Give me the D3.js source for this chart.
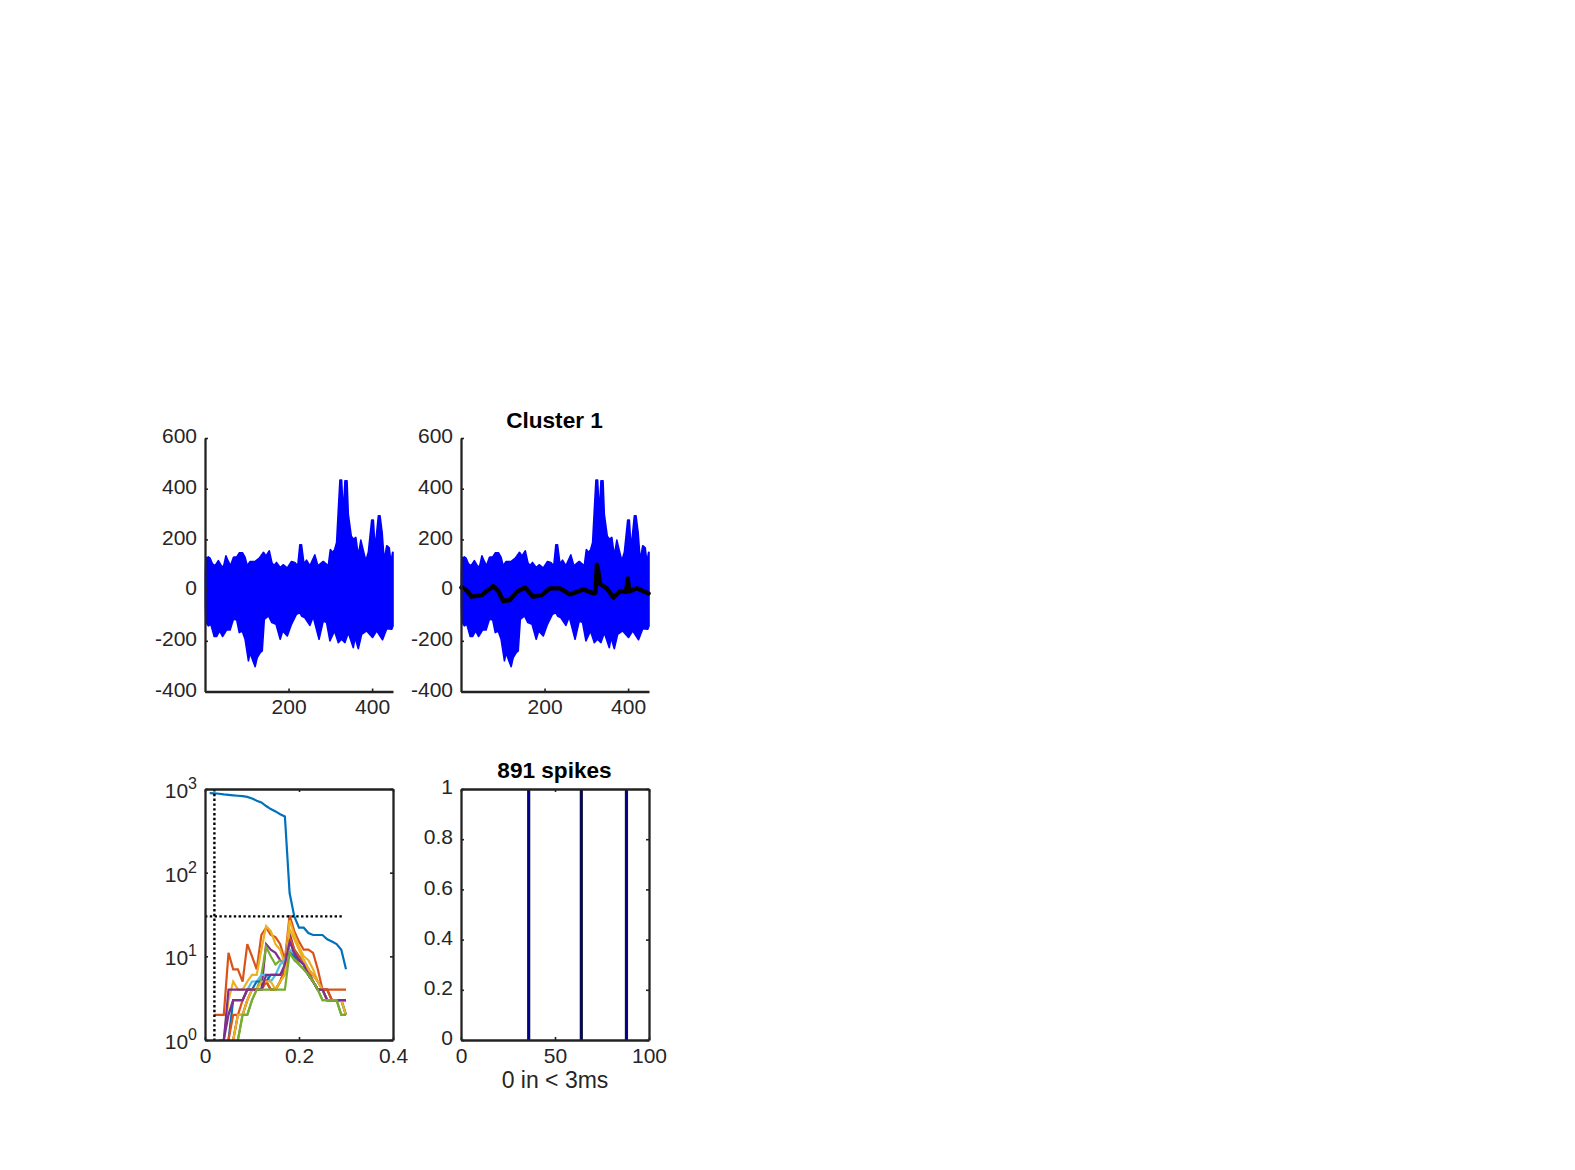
<!DOCTYPE html>
<html><head><meta charset="utf-8">
<script src="https://cdn.jsdelivr.net/npm/d3@7"></script>
<style>
html,body{margin:0;padding:0;background:#fff;}
svg{display:block;}
text{font-family:"Liberation Sans",Arial,sans-serif;fill:#262626;}
.axis path,.axis line{stroke:#222;stroke-width:2.3;fill:none;}
.axis line{stroke-width:1.6;}
.axis text{font-size:21px;fill:#262626;font-family:"Liberation Sans",Arial,sans-serif;}
.title{font-size:22.6px;font-weight:bold;fill:#000;text-anchor:middle;}
.xlabel{font-size:23px;text-anchor:middle;}
</style></head><body>
<svg id="chart" width="1575" height="1170"></svg>
<script>
// waveform envelope (sample index, value)
const upperX=[1,2,8,12,18,24,32,38,44,50,56,61,68,76,82,90,96,101,108,120,130,140,146,154,160,165,171,180,187,197,207,215,222,227,231,237,243,251,263,270,283,295,300,305,310,315,319,323,327,331,335,340,343,350,355,361,367,373,379,385,391,399,403,407,415,419,424,429,435,441,445,449,450];
const upperV=[60,126,131,126,103,96,116,99,89,135,113,96,129,131,147,147,129,96,113,113,126,149,135,155,109,96,109,89,100,87,113,109,96,179,179,103,118,96,139,96,113,96,160,149,158,188,313,434,434,300,431,431,300,214,201,208,135,197,155,116,149,276,276,162,293,293,227,116,175,167,109,149,149];
const lowerX=[1,2,8,14,22,28,35,42,52,60,68,76,82,89,96,104,108,112,120,125,132,137,142,152,160,170,180,186,197,207,219,227,231,239,251,259,273,283,291,299,310,319,327,335,343,355,359,367,375,387,401,411,425,435,447,450];
const lowerV=[-60,-128,-141,-135,-183,-183,-161,-183,-157,-157,-115,-118,-168,-161,-194,-279,-247,-267,-302,-266,-247,-240,-115,-102,-128,-135,-194,-161,-181,-135,-95,-89,-102,-109,-139,-105,-194,-122,-128,-200,-161,-207,-194,-207,-168,-227,-187,-231,-174,-161,-187,-161,-196,-152,-154,-141];
const meanX=[1,13,25,49,65,77,89,101,117,133,153,173,193,213,237,261,293,317,322,325,328,333,349,365,381,395,399,403,421,449];
const meanV=[10,0,-26,-20,0,16,-3,-43,-39,-7,10,-26,-20,7,7,-17,3,-13,-10,100,80,24,7,-29,-3,-7,46,-5,7,-13];

const binX=[0.01,0.02,0.03,0.04,0.05,0.06,0.07,0.08,0.09,0.10,0.11,0.12,0.13,0.14,0.15,0.16,0.17,0.18,0.19,0.20,0.21,0.22,0.23,0.24,0.25,0.26,0.27,0.28,0.29,0.30];
const N=null;
const counts1=[891,888,878,862,850,840,830,820,805,772,725,690,626,575,540,500,470,57,30,22,22,19,18,18,18,16,15,14,12,7];
const counts2=[N,2,2,2,11,7,7,5,14,10,7,18,22,18,17,14,9,31,20,15,12,12,11,7,4,4,4,4,4,4];
const counts3=[N,N,1,1,3,5,4,4,5,6,6,12,23,20,14,12,8,27,18,13,10,9,7,5,4,3,3,3,3,2];
const counts4=[N,N,N,1,4,4,4,4,4,4,4,4,14,12,11,9,8,19,12,10,9,7,6,5,4,3,3,3,3,3];
const counts5=[N,N,N,N,N,N,1,2,2,3,4,6,13,10,8,9,8,12,10,8,7,6,5,4,3,3,3,3,2,2];
const counts6=[N,N,N,N,2,3,3,3,4,5,5,6,6,5,6,8,9,12,11,10,9,7,5,4,4,3,3,3,3,2];
const counts7=[N,N,N,N,N,1,2,2,3,4,4,4,5,4,4,5,7,16,11,9,8,6,5,4,4,4,3,3,3,3];
const counts8=[N,N,N,N,1,3,3,3,4,4,5,5,5,6,6,6,7,11,10,9,8,6,5,4,4,3,3,3,3,2];
const counts9=[N,N,N,N,1,2,2,3,4,4,4,4,5,4,4,5,7,17,12,10,8,7,5,4,4,4,3,3,3,3];
const counts10=[N,N,N,N,N,1,2,2,3,4,4,5,5,5,4,5,6,21,16,12,9,7,6,5,4,3,3,3,3,2];
const counts11=[N,N,N,1,2,3,3,3,4,4,4,4,6,6,6,6,8,15,11,9,8,6,5,4,4,3,3,3,3,3];
const counts12=[N,N,N,N,N,N,1,2,2,3,4,4,4,4,4,4,4,11,9,8,7,6,5,4,3,3,3,3,2,2];
const allCounts=[counts1,counts2,counts3,counts4,counts5,counts6,counts7,counts8,counts9,counts10,counts11,counts12];
const lineColors=["#0072BD","#D95319","#EDB120","#7E2F8E","#77AC30","#4DBEEE","#A2142F"];

const thresholdY=[30];
const thresholdX=[0.02];
const thresholdEnd=0.293;
const spikeBins=[36,64,88];

const waveTicksX=[200,400];
const waveTicksY=[-400,-200,0,200,400,600];
const logTicks=[1,10,100,1000];
const isiTicksX=[0,0.2,0.4];
const acgTicksX=[0,50,100];
const acgTicksY=[0,0.2,0.4,0.6,0.8,1];
const titles=["Cluster 1","891 spikes"];
const xLabel="0 in < 3ms";

const svg=d3.select("#chart");
const L1=205,L2=461,W=188,T1=438,B1=691.5,T2=789,B2=1040;

function liftY(g){ g.selectAll(".tick text").attr("y",-2); }

function wavePanel(left,withMean){
  const x=d3.scaleLinear().domain([0,450]).range([left,left+W]);
  const y=d3.scaleLinear().domain([-400,600]).range([B1,T1]);
  const pts=upperX.map((d,i)=>[d,upperV[i]]).concat(lowerX.map((d,i)=>[d,lowerV[i]]).reverse());
  const line=d3.line().x(d=>x(d[0])).y(d=>y(d[1]));
  svg.append("path").attr("d",line(pts)+"Z").attr("fill","#0000ff").attr("stroke","#0000ff").attr("stroke-width",1.6).attr("stroke-linejoin","round");
  if(withMean){
    svg.append("path").attr("d",line(meanX.map((d,i)=>[d,meanV[i]]))).attr("fill","none").attr("stroke","#000").attr("stroke-width",4.4).attr("stroke-linejoin","round").attr("stroke-linecap","round");
  }
  svg.append("g").attr("class","axis").attr("transform",`translate(0,${B1})`)
    .call(d3.axisBottom(x).tickValues(waveTicksX).tickSizeInner(-3).tickSizeOuter(0).tickPadding(8).tickFormat(d3.format("d")));
  svg.append("g").attr("class","axis").attr("transform",`translate(${left},0)`)
    .call(d3.axisLeft(y).tickValues(waveTicksY).tickSizeInner(-3).tickSizeOuter(0).tickPadding(8).tickFormat(d=>String(d)))
    .call(liftY);
}
wavePanel(L1,false);
wavePanel(L2,true);

function box(g,x,y,xt,yt){
  g.append("g").attr("class","axis").attr("transform",`translate(0,${y.range()[1]})`)
    .call(d3.axisTop(x).tickValues(xt).tickSizeInner(-3).tickSizeOuter(0).tickFormat(""));
  g.append("g").attr("class","axis").attr("transform",`translate(${x.range()[1]},0)`)
    .call(d3.axisRight(y).tickValues(yt).tickSizeInner(-3).tickSizeOuter(0).tickFormat(""));
}

// ISI / log panel
(function(){
  const x=d3.scaleLinear().domain([0,0.4]).range([L1,L1+W]);
  const y=d3.scaleLog().domain([1,1000]).range([B2,T2]);
  const line=d3.line().defined(d=>d[1]!==null).x(d=>x(d[0])).y(d=>y(d[1]));
  allCounts.forEach((c,i)=>{
    svg.append("path").attr("d",line(binX.map((b,j)=>[b,c[j]]))).attr("fill","none")
      .attr("stroke",lineColors[i%lineColors.length]).attr("stroke-width",2.2);
  });
  svg.append("line").attr("x1",x(0)).attr("x2",x(thresholdEnd)).attr("y1",y(thresholdY[0])).attr("y2",y(thresholdY[0]))
    .attr("stroke","#000").attr("stroke-width",2.4).attr("stroke-dasharray","2.4 2.4");
  svg.append("line").attr("x1",x(thresholdX[0])).attr("x2",x(thresholdX[0])).attr("y1",y(1000)).attr("y2",y(1))
    .attr("stroke","#000").attr("stroke-width",2.4).attr("stroke-dasharray","2.4 2.4");
  svg.append("g").attr("class","axis").attr("transform",`translate(0,${B2})`)
    .call(d3.axisBottom(x).tickValues(isiTicksX).tickSizeInner(-3).tickSizeOuter(0).tickPadding(8).tickFormat(d=>String(d)));
  const ya=svg.append("g").attr("class","axis").attr("transform",`translate(${L1},0)`)
    .call(d3.axisLeft(y).tickValues(logTicks).tickSizeInner(-3).tickSizeOuter(0).tickPadding(18).tickFormat(d=>""));
  ya.selectAll(".tick text").each(function(d){
    const t=d3.select(this).attr("dy",null).attr("y",8.5);
    t.append("tspan").text("10");
    t.append("tspan").attr("font-size","16px").attr("dy",-9).text(Math.round(Math.log10(d)));
    t.attr("x",-8);
  });
  box(svg,x,y,isiTicksX,logTicks);
})();

// ACG panel
(function(){
  const x=d3.scaleLinear().domain([0,100]).range([L2,L2+W]);
  const y=d3.scaleLinear().domain([0,1]).range([B2,T2]);
  svg.selectAll(".spk").data(spikeBins).enter().append("line").attr("class","spk")
    .attr("x1",d=>x(d)).attr("x2",d=>x(d)).attr("y1",y(0)).attr("y2",y(1)).attr("stroke","#141433").attr("stroke-width",3.2);
  svg.selectAll(".spk2").data(spikeBins).enter().append("line").attr("class","spk2")
    .attr("x1",d=>x(d)).attr("x2",d=>x(d)).attr("y1",y(0)).attr("y2",y(1)).attr("stroke","#00008c").attr("stroke-width",1.6);
  svg.append("g").attr("class","axis").attr("transform",`translate(0,${B2})`)
    .call(d3.axisBottom(x).tickValues(acgTicksX).tickSizeInner(-3).tickSizeOuter(0).tickPadding(8).tickFormat(d=>String(d)));
  svg.append("g").attr("class","axis").attr("transform",`translate(${L2},0)`)
    .call(d3.axisLeft(y).tickValues(acgTicksY).tickSizeInner(-3).tickSizeOuter(0).tickPadding(8).tickFormat(d=>String(d)))
    .call(liftY);
  box(svg,x,y,acgTicksX,acgTicksY);
})();

svg.append("text").attr("class","title").attr("x",L2+W/2-0.5).attr("y",428).text(titles[0]);
svg.append("text").attr("class","title").attr("x",L2+W/2-0.5).attr("y",778).text(titles[1]);
svg.append("text").attr("class","xlabel").attr("x",L2+W/2).attr("y",1088).text(xLabel);
</script>
</body></html>
